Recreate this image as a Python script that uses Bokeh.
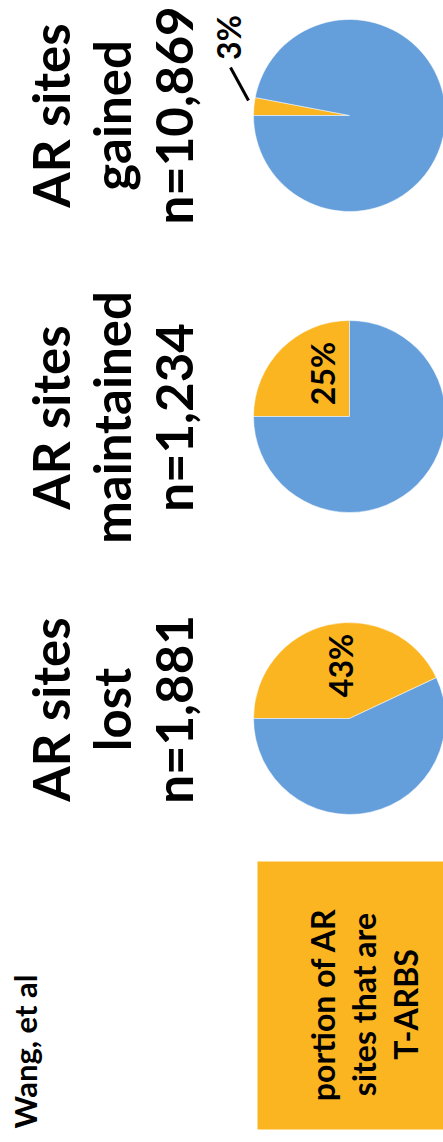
import math
from bokeh.plotting import figure
from bokeh.models import ColumnDataSource, Range1d
from bokeh.core.properties import value
from bokeh.embed import file_html
from bokeh.resources import INLINE

# ---- data ----
groups = ["gained", "maintained", "lost"]
n_sites = [10869, 1234, 1881]
tarbs_pct = [3, 25, 43]
legend_lines = ["portion of AR", "sites that are", "T-ARBS"]
credit = "Wang, et al"

BLUE = "#659FDB"
GOLD = "#FBB520"
W, H = 443, 1142
FONT = value("Lato")

p = figure(width=W, height=H, x_range=Range1d(0, W), y_range=Range1d(0, H),
           output_backend="svg", toolbar_location=None, min_border=0)
p.axis.visible = False
p.grid.visible = False
p.outline_line_color = None
p.background_fill_color = "white"
p.border_fill_color = "white"

def Y(img_y):
    return H - img_y

pie_cx = 349
pie_cy_img = [115, 416, 718]
title_cy_img = [115, 417, 709]
R = 96

# pies
wx, wy, ws, we, wc = [], [], [], [], []
for i, pct in enumerate(tarbs_pct):
    frac = pct / 100.0
    cy = Y(pie_cy_img[i])
    wx.append(pie_cx); wy.append(cy)
    ws.append(math.pi - frac * 2 * math.pi); we.append(math.pi); wc.append(GOLD)
    wx.append(pie_cx); wy.append(cy)
    ws.append(math.pi); we.append(math.pi + (1 - frac) * 2 * math.pi); wc.append(BLUE)
src = ColumnDataSource(dict(x=wx, y=wy, s=ws, e=we, c=wc))
p.wedge(x="x", y="y", radius=R, start_angle="s", end_angle="e", direction="anticlock",
        fill_color="c", line_color="white", line_width=0.5, source=src)

# titles
tx, ty, tt = [], [], []
base_x = [50, 111, 173]
for i, g in enumerate(groups):
    lines = ["AR sites", g, "n={:,}".format(n_sites[i])]
    for j, ln in enumerate(lines):
        tx.append(base_x[j]); ty.append(Y(title_cy_img[i])); tt.append(ln)
p.text(x=tx, y=ty, text=tt, angle=math.pi / 2, text_align="center",
       text_baseline="alphabetic", text_font=FONT, text_font_style="bold",
       text_font_size="51px", text_color="black")

# percentage labels
lab_x = [228, 322, 340]
lab_y_img = [37, 373, 665]
p.text(x=lab_x, y=[Y(v) for v in lab_y_img], text=["{}%".format(v) for v in tarbs_pct],
       angle=math.pi / 2, text_align="center", text_baseline="alphabetic",
       text_font=FONT, text_font_style="bold", text_font_size="32px", text_color="black")
p.line(x=[248, 230], y=[Y(100), Y(67)], line_color="black", line_width=3)

# legend box
p.quad(left=[257], right=[W], top=[Y(861)], bottom=[Y(1129)], fill_color=GOLD, line_color=None)
p.text(x=[322, 363, 405], y=[Y(1004)] * 3, text=legend_lines, angle=math.pi / 2,
       text_align="center", text_baseline="alphabetic", text_font=FONT,
       text_font_style="bold", text_font_size="32px", text_color="black")

# credit
p.text(x=[24], y=[Y(1128)], text=[credit], angle=math.pi / 2, text_align="left",
       text_baseline="alphabetic", text_font=FONT, text_font_style="bold",
       text_font_size="31px", text_color="black")

open("out.html", "w").write(file_html(p, INLINE))
